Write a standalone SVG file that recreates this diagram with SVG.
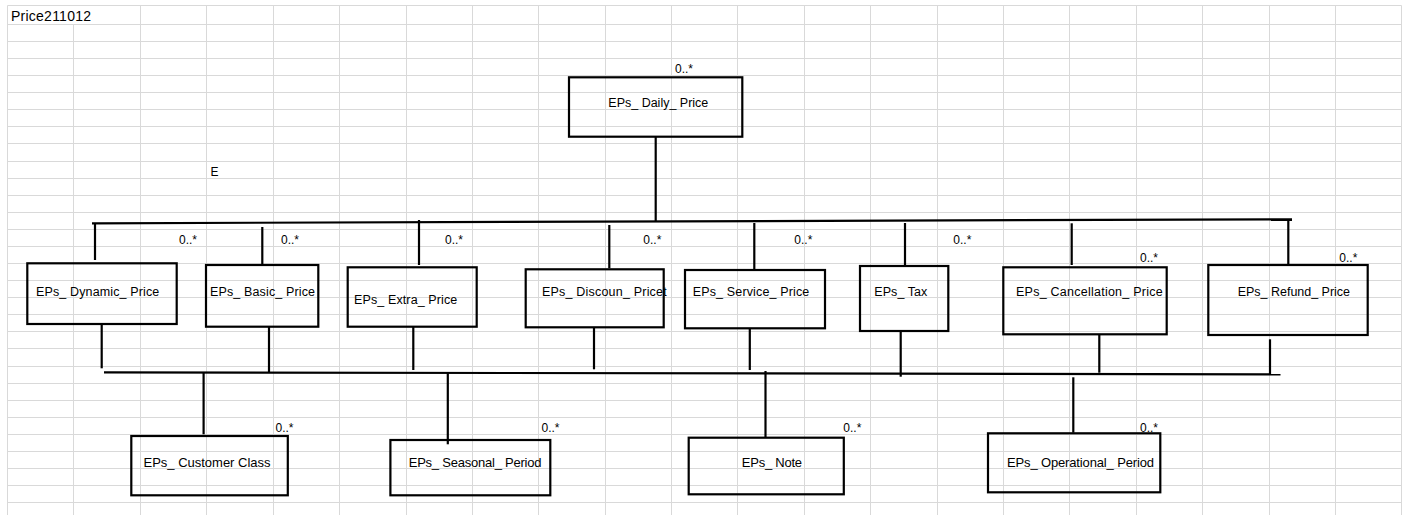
<svg xmlns="http://www.w3.org/2000/svg" width="1408" height="515" viewBox="0 0 1408 515">
<style>
.grid{stroke:#d9d9d9;stroke-width:1;fill:none}
.box{fill:none;stroke:#000;stroke-width:2.2}
#connectors line{stroke:#000;stroke-width:2.2}
text{font-family:"Liberation Sans",Arial,sans-serif;fill:#000}
.t1{font-size:12.5px}
.t2{font-size:13px}
.m{font-size:12px}
</style>
<rect width="1408" height="515" fill="#fff"/>
<g id="grid">
<path class="grid" d="M7.5 5.5V515 M73.5 24.5V515 M140.5 5.5V515 M206.5 5.5V515 M273.5 5.5V515 M339.5 5.5V515 M406.5 5.5V515 M472.5 5.5V515 M538.5 5.5V515 M605.5 5.5V515 M671.5 5.5V515 M737.5 5.5V515 M804.5 5.5V515 M870.5 5.5V515 M937.5 5.5V515 M1003.5 5.5V515 M1069.5 5.5V515 M1136.5 5.5V515 M1202.5 5.5V515 M1269.5 5.5V515 M1335.5 5.5V515 M1401.5 5.5V515"/>
<path class="grid" d="M7.5 5.5H1401.5 M7.5 24.5H1401.5 M7.5 41.5H1401.5 M7.5 58.5H1401.5 M7.5 75.5H1401.5 M7.5 92.5H1401.5 M7.5 109.5H1401.5 M7.5 126.5H1401.5 M7.5 143.5H1401.5 M7.5 161.5H1401.5 M7.5 178.5H1401.5 M7.5 195.5H1401.5 M7.5 212.5H1401.5 M7.5 229.5H1401.5 M7.5 246.5H1401.5 M7.5 263.5H1401.5 M7.5 280.5H1401.5 M7.5 297.5H1401.5 M7.5 314.5H1401.5 M7.5 331.5H1401.5 M7.5 348.5H1401.5 M7.5 366.5H1401.5 M7.5 383.5H1401.5 M7.5 400.5H1401.5 M7.5 417.5H1401.5 M7.5 434.5H1401.5 M7.5 451.5H1401.5 M7.5 468.5H1401.5 M7.5 485.5H1401.5 M7.5 502.5H1401.5"/>
</g>
<text x="11" y="21" font-size="14" textLength="80">Price211012</text>
<text x="210.5" y="176" class="m">E</text>
<g id="connectors">
<line x1="655.7" y1="136.7" x2="655.7" y2="221.5"/>
<line x1="92" y1="223.3" x2="1292" y2="219.3"/>
<line x1="95" y1="223" x2="95" y2="260"/>
<line x1="262.3" y1="227" x2="262.3" y2="264"/>
<line x1="419" y1="220" x2="419" y2="265"/>
<line x1="609.3" y1="225" x2="609.3" y2="268.3"/>
<line x1="754.3" y1="223" x2="754.3" y2="269.3"/>
<line x1="905" y1="223" x2="905" y2="265"/>
<line x1="1071.7" y1="223.3" x2="1071.7" y2="265"/>
<line x1="1288.3" y1="219.3" x2="1288.3" y2="264"/>
<line x1="101.7" y1="324" x2="101.7" y2="368.3"/>
<line x1="269" y1="326.7" x2="269" y2="372"/>
<line x1="413.3" y1="326.7" x2="413.3" y2="370"/>
<line x1="594" y1="327.3" x2="594" y2="369.3"/>
<line x1="749.8" y1="328.3" x2="749.8" y2="370"/>
<line x1="900.7" y1="331" x2="900.7" y2="376.7"/>
<line x1="1099.3" y1="334.3" x2="1099.3" y2="372.7"/>
<line x1="1270" y1="339.3" x2="1270" y2="374.3"/>
<line x1="104" y1="372.3" x2="1280.5" y2="374.3"/>
<line x1="203.6" y1="372.5" x2="203.6" y2="434.3"/>
<line x1="447.8" y1="373" x2="447.8" y2="444.3"/>
<line x1="765.5" y1="371" x2="765.5" y2="437.7"/>
<line x1="1073.3" y1="377.3" x2="1073.3" y2="432.7"/>
</g>
<g id="multiplicities" class="m">
<text x="675" y="72.5">0..*</text>
<text x="179" y="244">0..*</text>
<text x="281" y="244">0..*</text>
<text x="445" y="244">0..*</text>
<text x="643.3" y="244">0..*</text>
<text x="794.3" y="244">0..*</text>
<text x="953.3" y="244">0..*</text>
<text x="1140" y="261.5">0..*</text>
<text x="1339.3" y="261.5">0..*</text>
<text x="275.5" y="432">0..*</text>
<text x="541.5" y="432">0..*</text>
<text x="843.3" y="432">0..*</text>
<text x="1140" y="432">0..*</text>
</g>
<g id="daily-price"><rect class="box" x="569" y="77.3" width="173.3" height="59.4"/><text class="t1" x="608.3" y="107" textLength="100">EPs_ Daily_ Price</text></g>
<g id="dynamic-price"><rect class="box" x="27.3" y="263.3" width="149.4" height="60.7"/><text class="t1" x="36" y="295.5" textLength="123.3">EPs_ Dynamic_ Price</text></g>
<g id="basic-price"><rect class="box" x="206" y="265" width="112.3" height="61.7"/><text class="t1" x="210" y="295.5" textLength="105">EPs_ Basic_ Price</text></g>
<g id="extra-price"><rect class="box" x="347.7" y="267.3" width="129" height="59.4"/><text class="t1" x="354" y="303.8" textLength="103.3">EPs_ Extra_ Price</text></g>
<g id="discount-price"><rect class="box" x="525.7" y="269.3" width="138" height="58"/><text class="t1" x="542" y="295.5" textLength="124.7">EPs_ Discoun_ Pricet</text></g>
<g id="service-price"><rect class="box" x="685" y="270" width="140" height="58.3"/><text class="t1" x="692.7" y="295.5" textLength="116.6">EPs_ Service_ Price</text></g>
<g id="tax"><rect class="box" x="860" y="266" width="88.3" height="65"/><text class="t1" x="874.3" y="295.5" textLength="53">EPs_ Tax</text></g>
<g id="cancellation-price"><rect class="box" x="1003.3" y="267.3" width="163.4" height="67"/><text class="t1" x="1016" y="295.5" textLength="146.7">EPs_ Cancellation_  Price</text></g>
<g id="refund-price"><rect class="box" x="1208.3" y="265" width="159.4" height="70"/><text class="t1" x="1237.7" y="295.5" textLength="112.3">EPs_ Refund_ Price</text></g>
<g id="customer-class"><rect class="box" x="131.3" y="436" width="156.5" height="59.3"/><text class="t2" x="143.5" y="466.8" textLength="127">EPs_ Customer Class</text></g>
<g id="seasonal-period"><rect class="box" x="390.4" y="440" width="159.9" height="55.3"/><text class="t2" x="408.7" y="466.8" textLength="132.8">EPs_ Seasonal_ Period</text></g>
<g id="note"><rect class="box" x="688.7" y="437.7" width="155.1" height="56.6"/><text class="t2" x="741.8" y="466.8" textLength="60.2">EPs_ Note</text></g>
<g id="operational-period"><rect class="box" x="988" y="433.3" width="172.3" height="59"/><text class="t2" x="1007" y="466.8" textLength="147">EPs_ Operational_ Period</text></g>
</svg>
